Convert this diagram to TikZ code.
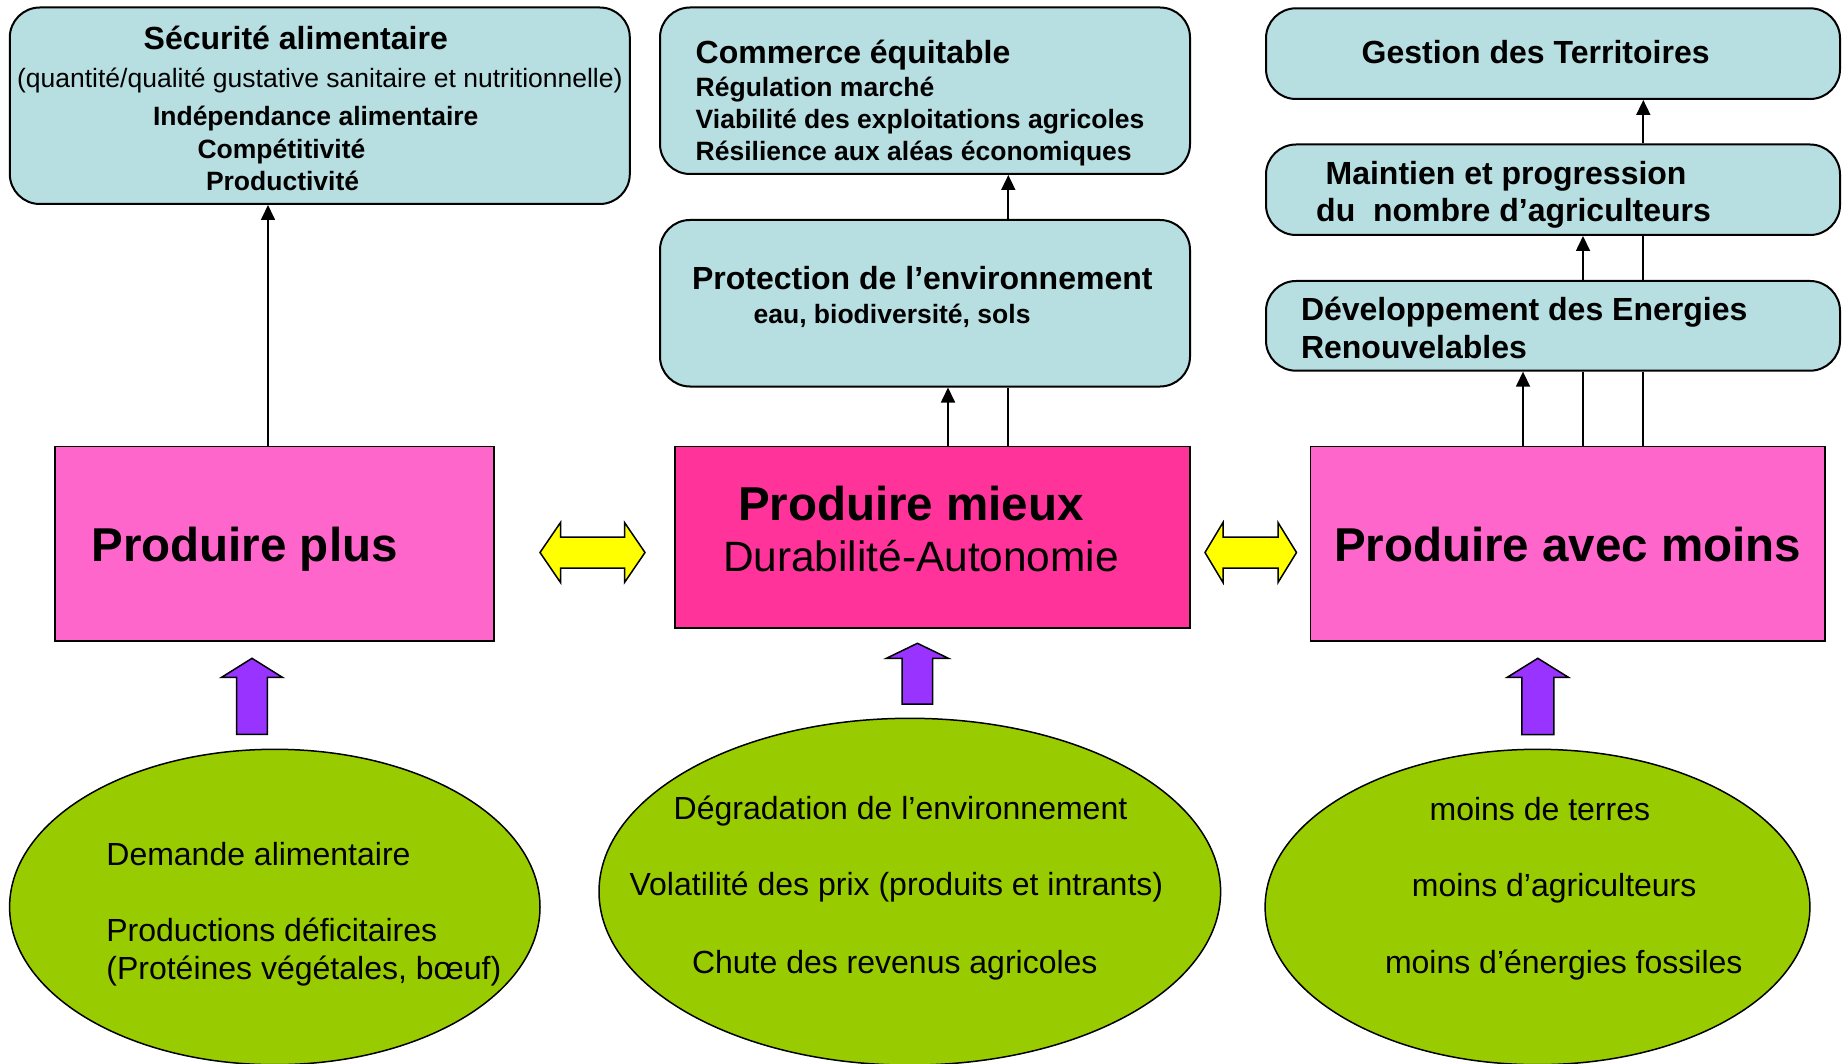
\documentclass[tikz,border=0pt]{standalone}
\usepackage{fontspec}
\setmainfont{Liberation Sans}
\usetikzlibrary{arrows.meta,shapes.geometric}
\definecolor{boxblue}{HTML}{B7DEE1}
\definecolor{pinkl}{HTML}{FF66CC}
\definecolor{pinkd}{HTML}{FF3399}
\definecolor{leaf}{HTML}{99CC00}
\definecolor{violetarrow}{HTML}{9933FF}
\definecolor{yel}{HTML}{FFFF00}
\begin{document}
\begin{tikzpicture}[x=1pt,y=-1pt,
  goalbox/.style={draw=black, line width=2pt, fill=boxblue, rectangle, rounded corners=30pt, inner sep=0pt},
  pinkbox/.style={draw=black, line width=1.8pt, rectangle, inner sep=0pt},
  causeell/.style={draw=black, line width=1.5pt, fill=leaf, ellipse, inner sep=0pt},
  conn/.style={line width=1.7pt, -{Triangle[length=15pt,width=14pt]}},
  plainline/.style={line width=1.7pt},
  yarrow/.style={draw=black, line width=1.5pt, fill=yel, line join=miter},
  parrow/.style={draw=black, line width=1.5pt, fill=violetarrow, line join=miter},
  txt/.style={anchor=base west, inner sep=0pt, outer sep=0pt},
  ttl/.style={txt, font=\fontsize{32}{38}\selectfont\bfseries},
  sub/.style={txt, font=\fontsize{26.5}{32}\selectfont\bfseries},
  subreg/.style={txt, font=\fontsize{26.5}{32}\selectfont},
  bigt/.style={txt, font=\fontsize{47.5}{57}\selectfont\bfseries},
  midt/.style={txt, font=\fontsize{42.4}{50}\selectfont},
  elt/.style={txt, font=\fontsize{32}{38}\selectfont}
]
\useasboundingbox (0,0) rectangle (1843,1064);
\clip (0,0) rectangle (1843,1064);

% goal boxes
\node[goalbox, minimum width=620pt, minimum height=196.5pt] (secu) at (319.8,105.75) {};
\node[goalbox, minimum width=530pt, minimum height=166.5pt] (comm) at (925,90.75) {};
\node[goalbox, minimum width=530pt, minimum height=166.5pt] (prot) at (925,303.25) {};
\node[goalbox, minimum width=574pt, minimum height=90.7pt] (gest) at (1553,53.65) {};
\node[goalbox, minimum width=574pt, minimum height=90.5pt] (main) at (1553,189.75) {};
\node[goalbox, minimum width=574pt, minimum height=89.7pt] (deve) at (1553,325.85) {};

% pink boxes
\node[pinkbox, fill=pinkl, minimum width=439pt, minimum height=194.2pt] (pplus) at (274.5,543.6) {};
\node[pinkbox, fill=pinkd, minimum width=515pt, minimum height=181.5pt] (pmieux) at (932.5,537.25) {};
\node[pinkbox, fill=pinkl, minimum width=514.5pt, minimum height=194.2pt] (pmoins) at (1567.75,543.6) {};

% ellipses
\node[causeell, minimum width=530.4pt, minimum height=315.4pt] (e1) at (274.8,907) {};
\node[causeell, minimum width=621.6pt, minimum height=346.8pt] (e2) at (909.8,891.7) {};
\node[causeell, minimum width=544.8pt, minimum height=315.4pt] (e3) at (1537.5,907) {};

% texts in goal boxes
\node[ttl] (tsecu) at (143.7,49.3) {Sécurité alimentaire};
\node[subreg] (tqual) at (17.1,88) {(quantité/qualité gustative sanitaire et nutritionnelle)};
\node[sub] (tinde) at (153,126) {Indépendance alimentaire};
\node[sub] (tcomp) at (197.5,158.8) {Compétitivité};
\node[sub] (tprod) at (206,190.5) {Productivité};

\node[ttl] (tcomm) at (695.7,63.5) {Commerce équitable};
\node[sub] (treg) at (695.7,96.7) {Régulation marché};
\node[sub] (tvia) at (695.7,128.5) {Viabilité des exploitations agricoles};
\node[sub] (tres) at (695.7,160.3) {Résilience aux aléas économiques};

\node[ttl] (tprot) at (692,290) {Protection de l’environnement};
\node[sub] (teau) at (753.6,323.3) {eau, biodiversité, sols};

\node[ttl] (tgest) at (1361.6,64) {Gestion des Territoires};
\node[ttl] (tmain1) at (1325.6,185) {Maintien et progression};
\node[ttl] (tmain2) at (1316.2,221.7) {du~ nombre d’agriculteurs};
\node[ttl] (tdev1) at (1301,320) {Développement des Energies};
\node[ttl] (tdev2) at (1301,358.3) {Renouvelables};

% texts in pink boxes
\node[bigt] (tplus) at (91.5,561.7) {Produire plus};
\node[bigt] (tmieux) at (738,520) {Produire mieux};
\node[midt] (tdura) at (723,571) {Durabilité-Autonomie};
\node[bigt] (tmoins) at (1334,561.7) {Produire avec moins};

% texts in ellipses
\node[elt] (tdem) at (106.4,865) {Demande alimentaire};
\node[elt] (tdef) at (106.4,941) {Productions déficitaires};
\node[elt] (tprotei) at (106.4,979) {(Protéines végétales, bœuf)};

\node[elt] (tdeg) at (673.7,819.3) {Dégradation de l’environnement};
\node[elt] (tvol) at (629.6,895.5) {Volatilité des prix (produits et intrants)};
\node[elt] (tchu) at (692,973) {Chute des revenus agricoles};

\node[elt] (tter) at (1429.6,820) {moins de terres};
\node[elt] (tagr) at (1411.9,896.7) {moins d’agriculteurs};
\node[elt] (tene) at (1385,973.3) {moins d’énergies fossiles};

% connector columns
\coordinate (xa) at (268,0);
\coordinate (xb1) at (948,0);
\coordinate (xb2) at (1008.3,0);
\coordinate (xr1) at (1523,0);
\coordinate (xr2) at (1583,0);
\coordinate (xr3) at (1643.3,0);

\draw[conn] (pplus.north -| xa) -- (secu.south -| xa);

\draw[conn] (pmieux.north -| xb1) -- (prot.south -| xb1);
\draw[plainline] (pmieux.north -| xb2) -- (prot.south -| xb2);
\draw[conn] (prot.north -| xb2) -- (comm.south -| xb2);

\draw[conn] (pmoins.north -| xr1) -- (deve.south -| xr1);
\draw[plainline] (pmoins.north -| xr2) -- (deve.south -| xr2);
\draw[conn] (deve.north -| xr2) -- (main.south -| xr2);
\draw[plainline] (pmoins.north -| xr3) -- (deve.south -| xr3);
\draw[plainline] (deve.north -| xr3) -- (main.south -| xr3);
\draw[conn] (main.north -| xr3) -- (gest.south -| xr3);

% yellow double arrows
\draw[yarrow] (540,552.5) -- (560.5,522.5) -- (560.5,537) -- (624.5,537) -- (624.5,522.5) -- (645,552.5) -- (624.5,582.5) -- (624.5,568) -- (560.5,568) -- (560.5,582.5) -- cycle;
\draw[yarrow] (1205,552.5) -- (1223,522.5) -- (1223,537) -- (1278,537) -- (1278,522.5) -- (1296.5,552.5) -- (1278,582.5) -- (1278,568) -- (1223,568) -- (1223,582.5) -- cycle;

% purple arrows
\draw[parrow] (252,658.3) -- (282.4,677.3) -- (267.4,677.3) -- (267.4,734.3) -- (236.6,734.3) -- (236.6,677.3) -- (221.6,677.3) -- cycle;
\draw[parrow] (917.4,643.3) -- (948.4,658.3) -- (932.7,658.3) -- (932.7,704) -- (902.1,704) -- (902.1,658.3) -- (886.4,658.3) -- cycle;
\draw[parrow] (1537.8,658.3) -- (1568.4,677.3) -- (1553.8,677.3) -- (1553.8,734.7) -- (1521.8,734.7) -- (1521.8,677.3) -- (1507.2,677.3) -- cycle;
\end{tikzpicture}
\end{document}
